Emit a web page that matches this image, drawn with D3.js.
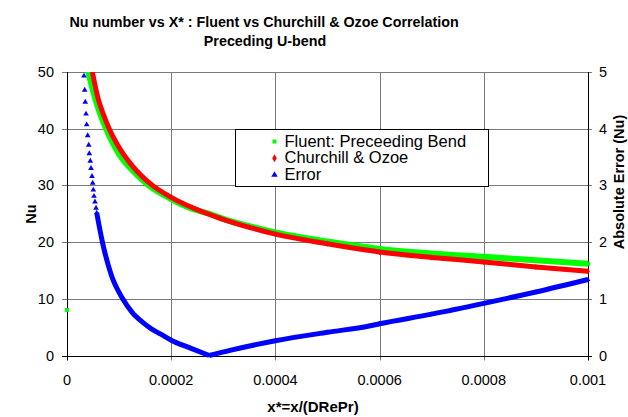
<!DOCTYPE html>
<html><head><meta charset="utf-8">
<script src="https://cdn.jsdelivr.net/npm/d3@7/dist/d3.min.js"></script>
<style>
body{margin:0;background:#fff;}
svg{display:block;font-family:Arial,"Liberation Sans",sans-serif;}
</style></head>
<body><svg id="c" width="628" height="417"></svg>
<script>
// ---- data ----
const xTicks = [0, 0.0002, 0.0004, 0.0006, 0.0008, 0.001];
const xTickLabels = ["0", "0.0002", "0.0004", "0.0006", "0.0008", "0.001"];
const nuTicks = [0, 10, 20, 30, 40, 50];
const errTicks = [0, 1, 2, 3, 4, 5];

const fluentInletX = [0];
const fluentInletNu = [8.04];

const xFluent = [4.09e-5, 5.0e-5, 6.0e-5, 7.5e-5, 1.0e-4, 1.25e-4, 1.57e-4, 2.0e-4, 2.4e-4, 2.73e-4, 3.0e-4, 3.5e-4, 4.0e-4, 5.0e-4, 6.0e-4, 7.0e-4, 8.0e-4, 9.0e-4, 1.0e-3];
const nuFluent = [50, 46.7, 43.6, 40, 35.5, 32.7, 30, 27.6, 25.9, 25.0, 24.1, 22.8, 21.7, 20.1, 18.8, 18.0, 17.4, 16.8, 16.2];

const xChurchill = [4.86e-5, 6.0e-5, 7.0e-5, 8.1e-5, 1.0e-4, 1.25e-4, 1.64e-4, 2.0e-4, 2.4e-4, 2.94e-4, 3.5e-4, 4.0e-4, 5.0e-4, 6.0e-4, 7.0e-4, 8.0e-4, 9.0e-4, 1.0e-3];
const nuChurchill = [50, 45.2, 42.5, 40, 36.7, 33.5, 30, 27.9, 26.1, 24.2, 22.6, 21.4, 19.7, 18.25, 17.3, 16.5, 15.6, 14.85];

const xError = [3.26e-5, 3.40e-5, 3.51e-5, 3.65e-5, 3.78e-5, 3.97e-5, 4.17e-5, 4.28e-5, 4.47e-5, 4.61e-5, 4.80e-5, 4.93e-5, 5.05e-5, 5.18e-5, 5.37e-5, 5.57e-5, 5.70e-5,
  6.8e-5, 8.5e-5, 1.07e-4, 1.25e-4, 1.46e-4, 1.62e-4, 1.79e-4, 2.0e-4, 2.37e-4, 2.73e-4, 3.13e-4, 4.0e-4, 5.0e-4, 5.8e-4, 6.0e-4, 7.0e-4, 8.0e-4, 9.0e-4, 1.0e-3];
const err = [4.93, 4.68, 4.47, 4.26, 4.07, 3.88, 3.71, 3.56, 3.43, 3.30, 3.16, 3.04, 2.92, 2.81, 2.71, 2.60, 2.52,
  2.0, 1.42, 1.0, 0.76, 0.58, 0.47, 0.38, 0.27, 0.13, 0.0, 0.09, 0.26, 0.41, 0.52, 0.56, 0.73, 0.92, 1.12, 1.34];
const errLineStart = 16; // sparse triangles before this point

const seriesNames = ["Fluent: Preceeding Bend", "Churchill & Ozoe", "Error"];
const seriesColors = ["#00ff00", "#ff0000", "#0000ff"];

// ---- layout ----
const L = 67, R = 588, T = 72, B = 355.5;
const svg = d3.select("#c");
const x = d3.scaleLinear().domain([0, 0.001]).range([L, R]);
const yL = d3.scaleLinear().domain([0, 50]).range([B, T]);
const yR = d3.scaleLinear().domain([0, 5]).range([B, T]);
const grid = "#7a7a7a";

// gridlines
svg.append("g").selectAll("line").data(nuTicks.filter(d => d > 0)).join("line")
  .attr("x1", L - 5).attr("x2", R + 4)
  .attr("y1", d => Math.round(yL(d)) + 0.5).attr("y2", d => Math.round(yL(d)) + 0.5)
  .attr("stroke", grid).attr("stroke-width", 1);
svg.append("g").selectAll("line").data(xTicks.slice(1, -1)).join("line")
  .attr("x1", d => Math.round(x(d)) + 0.5).attr("x2", d => Math.round(x(d)) + 0.5)
  .attr("y1", T).attr("y2", B + 5)
  .attr("stroke", grid).attr("stroke-width", 1);

// axes
const axisG = svg.append("g").attr("stroke", "#000").attr("stroke-width", 1);
axisG.append("line").attr("x1", L + 0.5).attr("x2", L + 0.5).attr("y1", T).attr("y2", B + 5);
axisG.append("line").attr("x1", R + 0.5).attr("x2", R + 0.5).attr("y1", T).attr("y2", B + 5);
axisG.append("line").attr("x1", L - 5).attr("x2", R + 4).attr("y1", Math.round(B) + 0.5).attr("y2", Math.round(B) + 0.5);

// tick labels
const tickFont = 14.5;
svg.append("g").selectAll("text").data(nuTicks).join("text")
  .attr("x", 54).attr("y", d => yL(d) + 5).attr("text-anchor", "end")
  .attr("font-size", tickFont).text(d => d);
svg.append("g").selectAll("text").data(errTicks).join("text")
  .attr("x", 599).attr("y", d => yR(d) + 5).attr("text-anchor", "start")
  .attr("font-size", tickFont).text(d => d);
svg.append("g").selectAll("text").data(xTicks).join("text")
  .attr("x", d => x(d)).attr("y", 384.5).attr("text-anchor", "middle")
  .attr("font-size", tickFont).text((d, i) => xTickLabels[i]);

// titles
const title = svg.append("text").attr("text-anchor", "middle").attr("font-weight", "bold").attr("font-size", 14.3);
title.append("tspan").attr("x", 264).attr("y", 26.5).text("Nu number vs X* : Fluent vs Churchill & Ozoe Correlation");
title.append("tspan").attr("x", 265).attr("y", 45.5).text("Preceding U-bend");
svg.append("text").attr("transform", "translate(36,214) rotate(-90)").attr("text-anchor", "middle")
  .attr("font-weight", "bold").attr("font-size", 14.5).text("Nu");
svg.append("text").attr("transform", "translate(624,182) rotate(-90)").attr("text-anchor", "middle")
  .attr("font-weight", "bold").attr("font-size", 14.5).text("Absolute Error (Nu)");
svg.append("text").attr("x", 313).attr("y", 412).attr("text-anchor", "middle")
  .attr("font-weight", "bold").attr("font-size", 15).text("x*=x/(DRePr)");

// clip
svg.append("clipPath").attr("id", "clip").append("rect")
  .attr("x", L - 6).attr("y", T).attr("width", R - L + 12).attr("height", B - T + 6);
const plot = svg.append("g").attr("clip-path", "url(#clip)");

const sq = d3.symbol().type(d3.symbolSquare).size(16);
const dm = d3.symbol().type(d3.symbolDiamond).size(12);
const trSmall = d3.symbol().type(d3.symbolTriangle).size(10);
const trBig = d3.symbol().type(d3.symbolTriangle).size(14);
const curve = d3.curveMonotoneX;

// Fluent
const fl = xFluent.map((v, i) => [v, nuFluent[i]]);
plot.append("path").datum(fl)
  .attr("d", d3.line().x(d => x(d[0])).y(d => yL(d[1])).curve(curve))
  .attr("fill", "none").attr("stroke", seriesColors[0]).attr("stroke-width", 6);
plot.append("g").selectAll("path").data(fl).join("path")
  .attr("transform", d => `translate(${x(d[0])},${yL(d[1])})`).attr("d", sq).attr("fill", seriesColors[0]);
plot.append("g").selectAll("path").data(fluentInletX.map((v, i) => [v, fluentInletNu[i]])).join("path")
  .attr("transform", d => `translate(${x(d[0])},${yL(d[1])})`).attr("d", sq).attr("fill", seriesColors[0]);

// Churchill
const ch = xChurchill.map((v, i) => [v, nuChurchill[i]]);
plot.append("path").datum(ch)
  .attr("d", d3.line().x(d => x(d[0])).y(d => yL(d[1])).curve(curve))
  .attr("fill", "none").attr("stroke", seriesColors[1]).attr("stroke-width", 5);
plot.append("g").selectAll("path").data(ch).join("path")
  .attr("transform", d => `translate(${x(d[0])},${yL(d[1])})`).attr("d", dm).attr("fill", seriesColors[1]);

// Error (sharp V at the minimum: two monotone pieces)
const er = xError.map((v, i) => [v, err[i]]);
const iMin = d3.minIndex(err);
const errLine = d3.line().x(d => x(d[0])).y(d => yR(d[1])).curve(curve);
[er.slice(errLineStart, iMin + 1), er.slice(iMin)].forEach(seg => {
  plot.append("path").datum(seg).attr("d", errLine)
    .attr("fill", "none").attr("stroke", seriesColors[2]).attr("stroke-width", 5).attr("stroke-linejoin", "round");
});
plot.append("g").selectAll("path").data(er).join("path")
  .attr("transform", d => `translate(${x(d[0])},${yR(d[1])})`)
  .attr("d", (d, i) => i < errLineStart ? trBig() : trSmall()).attr("fill", seriesColors[2]);

// legend
const lg = svg.append("g");
lg.append("rect").attr("x", 235.5).attr("y", 129.5).attr("width", 253).attr("height", 57)
  .attr("fill", "#fff").attr("stroke", "#000").attr("stroke-width", 1);
const syms = [d3.symbol().type(d3.symbolSquare).size(16), d3.symbol().type(d3.symbolDiamond).size(18), d3.symbol().type(d3.symbolTriangle).size(18)];
seriesNames.forEach((n, i) => {
  const by = 146.5 + i * 16.7;
  lg.append("path").attr("transform", `translate(274.5,${by - 5})`).attr("d", syms[i]).attr("fill", seriesColors[i]);
  lg.append("text").attr("x", 284.5).attr("y", by).attr("font-size", 16.5).text(n);
});
</script></body></html>
